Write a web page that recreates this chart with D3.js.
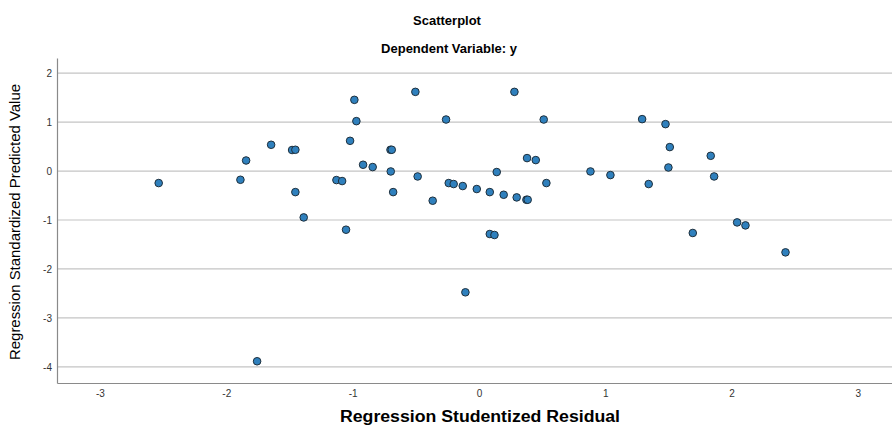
<!DOCTYPE html>
<html>
<head>
<meta charset="utf-8">
<script src="https://cdn.jsdelivr.net/npm/d3@7"></script>
<style>
  body { margin: 0; background: #fff; }
  svg { display: block; font-family: 'Liberation Sans', Arial, sans-serif; }
</style>
</head>
<body>
<svg id="chart" width="892" height="427"></svg>
<script>
// studentized residuals (x) and standardized predicted values (y)
const residuals = [
  -2.535, -1.888, -1.843, -1.645, -1.479, -1.453, -1.453, -1.387, -1.052, -1.128,
  -1.083, -0.986, -0.970, -1.020, -0.917, -0.841, -0.700, -0.690, -0.698, -0.679,
  -0.503, -0.485, -0.366, -0.260, -0.239, -0.200, -0.128, -0.017, 0.086, 0.196,
  0.299, 0.376, 0.386, 0.141, 0.086, 0.123, 0.281, 0.381, 0.450, 0.513,
  0.534, -0.107, 0.883, 1.041, 1.292, 1.344, 1.477, 1.511, 1.500, 1.835,
  1.862, 2.044, 2.110, 1.693, 2.427, -1.756
];
const predicted = [
  -0.245, -0.178, 0.216, 0.537, 0.430, 0.435, -0.430, -0.947, -1.198, -0.184,
  -0.204, 1.455, 1.020, 0.618, 0.129, 0.082, 0.435, 0.435, -0.008, -0.430,
  1.618, -0.110, -0.606, 1.053, -0.245, -0.265, -0.306, -0.367, -0.430, -0.484,
  -0.538, -0.586, -0.586, -0.020, -1.286, -1.306, 1.618, 0.265, 0.224, 1.053,
  -0.245, -2.477, -0.008, -0.082, 1.061, -0.265, 0.959, 0.490, 0.073, 0.312,
  -0.110, -1.049, -1.110, -1.265, -1.661, -3.886
];
const xTicks = [-3, -2, -1, 0, 1, 2, 3];
const yTicks = [-4, -3, -2, -1, 0, 1, 2];

(function () {
  const points = residuals.map((r, i) => ({ x: r, y: predicted[i] }));

  const svg = d3.select('#chart');
  const margin = { left: 57, right: 892, top: 58, bottom: 383 };

  const xScale = d3.scaleLinear().domain([-3.34, 3.27]).range([margin.left, margin.right]);
  const yScale = d3.scaleLinear().domain([-4.33, 2.31]).range([margin.bottom, margin.top]);

  // horizontal gridlines
  svg.append('g')
    .selectAll('line')
    .data(yTicks)
    .join('line')
    .attr('x1', margin.left)
    .attr('x2', margin.right)
    .attr('y1', (d) => yScale(d))
    .attr('y2', (d) => yScale(d))
    .attr('stroke', '#c4c4c4')
    .attr('stroke-width', 1.2);

  const yAxis = d3.axisLeft(yScale).tickValues(yTicks).tickSize(0).tickPadding(5)
    .tickFormat((d) => String(d));
  svg.append('g')
    .attr('transform', `translate(${margin.left},0)`)
    .call(yAxis)
    .call((g) => g.select('.domain').attr('stroke', '#8a8a8a').attr('stroke-width', 1.2))
    .call((g) => g.selectAll('text').attr('fill', '#333').style('font-size', '10px'));

  const xAxis = d3.axisBottom(xScale).tickValues(xTicks).tickSize(0).tickPadding(7)
    .tickFormat((d) => String(d));
  svg.append('g')
    .attr('transform', `translate(0,${margin.bottom})`)
    .call(xAxis)
    .call((g) => g.select('.domain').attr('stroke', '#8a8a8a').attr('stroke-width', 1.2))
    .call((g) => g.selectAll('text').attr('fill', '#333').style('font-size', '10px'));

  // points
  svg.append('g')
    .selectAll('circle')
    .data(points)
    .join('circle')
    .attr('cx', (d) => xScale(d.x))
    .attr('cy', (d) => yScale(d.y))
    .attr('r', 3.8)
    .attr('fill', '#2f80bd')
    .attr('stroke', '#1e2f3c')
    .attr('stroke-width', 1);

  // titles
  svg.append('text')
    .attr('x', 447)
    .attr('y', 25)
    .attr('text-anchor', 'middle')
    .style('font-size', '13px')
    .style('font-weight', 'bold')
    .text('Scatterplot');

  svg.append('text')
    .attr('x', 449)
    .attr('y', 53)
    .attr('text-anchor', 'middle')
    .style('font-size', '13px')
    .style('font-weight', 'bold')
    .text('Dependent Variable: y');

  svg.append('text')
    .attr('x', 480)
    .attr('y', 422)
    .attr('text-anchor', 'middle')
    .style('font-size', '16px')
    .style('font-weight', 'bold')
    .attr('textLength', 280)
    .attr('lengthAdjust', 'spacingAndGlyphs')
    .text('Regression Studentized Residual');

  svg.append('text')
    .attr('transform', 'translate(20,222) rotate(-90)')
    .attr('text-anchor', 'middle')
    .attr('textLength', 276)
    .attr('lengthAdjust', 'spacingAndGlyphs')
    .style('font-size', '14px')
    .text('Regression Standardized Predicted Value');
})();
</script>
</body>
</html>
